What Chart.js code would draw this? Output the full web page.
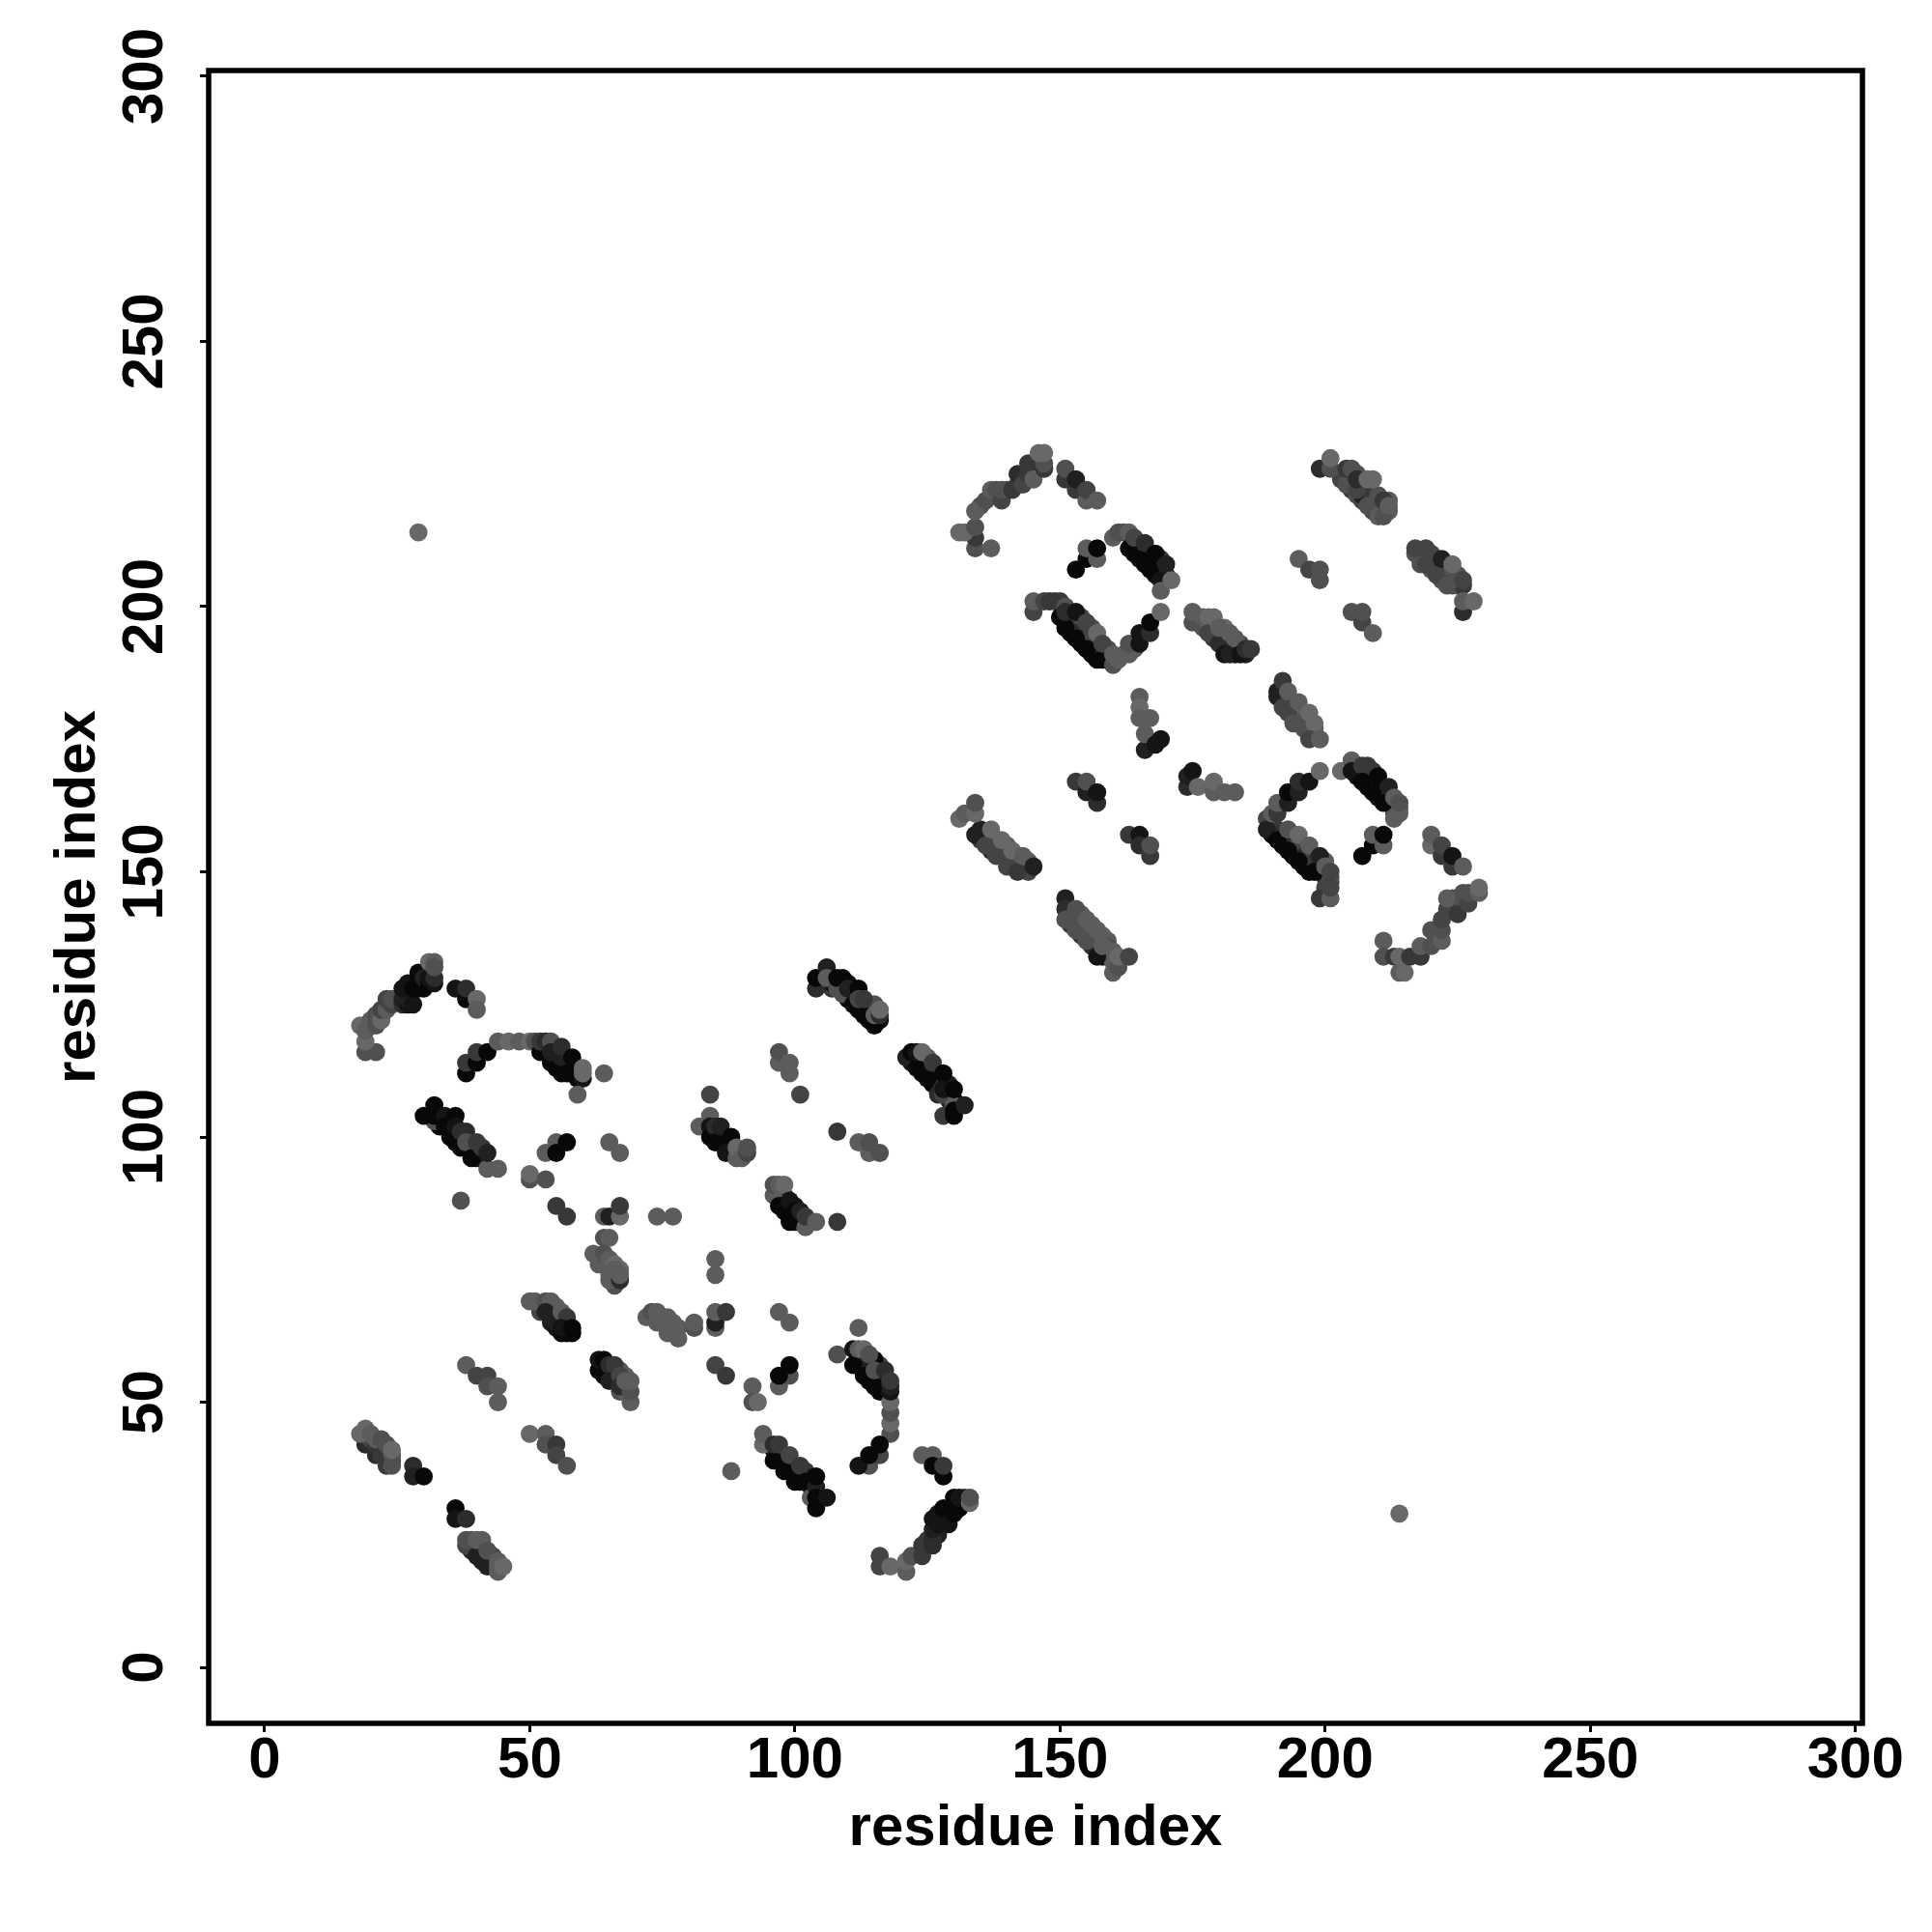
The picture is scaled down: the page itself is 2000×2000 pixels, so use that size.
<!DOCTYPE html>
<html>
<head>
<meta charset="utf-8">
<script src="https://cdn.jsdelivr.net/npm/chart.js@4"></script>
<style>
  html, body { margin: 0; background: #fff; }
  canvas { display: block; }
</style>
</head>
<body>
<canvas id="myChart" width="2000" height="2000"></canvas>
<script>
//DATA: each contact is [residue i, residue j, darkness 0-9]
const tickValues = [0, 50, 100, 150, 200, 250, 300];
const axisTitle = "residue index";

const lonely = [[29,214,1],[214,29,1]];

//lower domain
const arcUpperLeft = [[19,116,3],[21,116,3],[19,118,1],[18,121,1],[19,120,2],[20,122,2],[21,121,3],[21,123,3],[22,122,1],[22,124,4],[23,124,2],[23,126,4],[24,125,4],[24,126,3],[26,125,6],[26,126,7],[27,125,8],[27,126,7],[28,125,8],[26,128,8],[27,129,8],[28,128,9],[29,128,9],[29,131,9],[29,130,9],[30,128,9],[30,130,7],[31,129,9],[31,130,8],[32,129,8],[32,130,6],[31,133,1],[32,133,2],[32,132,3]];
const armTop = [[36,128,8],[38,126,9],[38,128,6],[40,126,1],[40,124,2]];
const arcMiddle = [[53,116,9],[53,117,7],[54,115,9],[55,114,9],[55,116,6],[55,113,9],[56,113,9],[57,114,8],[57,113,9],[58,112,9],[58,113,7],[59,112,9],[56,112,9],[55,115,8],[38,112,9],[38,114,5],[40,114,9],[40,116,5],[42,116,9],[44,118,2],[46,118,1],[48,118,2],[50,118,1],[51,118,3],[52,116,9],[52,118,5],[53,118,6],[54,118,3],[54,114,9],[54,116,7],[56,115,7],[56,117,6],[57,112,9],[58,115,9],[59,111,9],[60,111,8],[60,112,1],[60,113,1],[64,112,2],[59,108,2]];
const stripLeft = [[33,104,9],[33,102,9],[35,102,7],[35,103,8],[36,100,9],[36,99,9],[37,100,9],[38,98,9],[38,100,5],[39,98,7],[39,97,9],[40,97,9],[41,96,9],[40,96,8],[32,103,3],[30,104,9],[32,104,9],[32,106,9],[34,104,8],[36,104,9],[34,102,9],[35,100,9],[36,102,8],[37,101,6],[38,101,6],[37,98,9],[38,99,3],[39,96,9],[40,99,5],[42,94,2],[44,94,2],[41,98,5],[42,97,7],[37,88,3]];
const patchNinety = [[53,97,2],[55,99,2],[55,97,9],[57,99,9],[65,99,2],[67,97,2],[50,92,3],[50,93,1],[53,92,3],[55,87,5],[57,85,5],[64,85,2],[65,85,7],[67,85,1],[67,87,5],[74,85,2],[77,85,2]];
const patchSeventy = [[64,76,2],[64,77,3],[66,74,3],[65,75,2],[65,76,2],[66,73,4],[67,75,1],[64,81,3],[65,81,2],[62,78,2],[63,76,2],[64,78,3],[65,77,2],[66,76,1],[65,74,2],[66,72,3],[65,73,2],[67,73,6],[66,75,2],[67,74,2]];
const stripFlat = [[52,68,3],[52,67,4],[53,68,2],[54,67,4],[54,66,7],[55,67,3],[55,68,2],[54,65,7],[55,64,8],[56,65,5],[56,66,6],[57,64,9],[57,65,7],[58,63,9],[50,69,2],[51,69,2],[53,69,3],[54,69,2],[53,67,7],[55,65,7],[56,67,2],[56,63,9],[57,63,9],[57,66,5],[56,64,8],[58,64,9]];
const patchSixtyFive = [[72,66,2],[73,67,3],[74,67,2],[74,65,2],[76,66,2],[76,63,2],[77,65,2],[78,62,2],[78,64,2],[81,64,3],[81,65,2]];
const stripSixty = [[64,56,9],[64,55,9],[65,55,8],[65,56,6],[66,54,8],[66,55,5],[67,52,3],[68,53,3],[68,52,2],[68,55,2],[66,56,3],[67,56,2],[63,56,9],[63,58,8],[64,58,9],[65,57,6],[66,57,5],[65,54,7],[67,55,4],[67,53,6],[69,50,2],[69,52,3],[68,54,2],[69,54,2]];
const shortA = [[38,57,2],[40,55,4],[42,55,4],[42,53,3],[44,53,2],[44,50,2]];
const shortB = [[50,44,1],[53,44,2],[53,42,3],[55,42,5],[55,40,4],[57,38,3]];
const cornerLow = [[19,42,6],[21,40,6],[23,38,5],[20,42,6],[20,43,4],[21,42,5],[22,41,6],[22,42,4],[23,41,4],[23,40,5],[22,40,5],[24,39,5],[23,42,3],[18,44,1],[19,45,1],[20,44,2],[21,43,2],[22,43,3],[24,38,3],[24,40,3],[24,41,1]];
const cornerDiag = [[28,38,6],[28,36,7],[30,36,9],[36,30,9],[36,28,8],[38,28,6]];
const cornerTail = [[39,23,4],[39,24,3],[39,22,6],[40,23,4],[41,22,6],[41,20,7],[42,21,5],[43,21,4],[43,20,5],[43,19,5],[41,23,3],[38,23,4],[38,24,3],[40,21,7],[40,24,2],[41,24,2],[42,19,7],[42,22,3],[44,18,2],[44,20,2],[44,19,2],[45,19,1]];

const stripHundred = [[85,100,8],[85,101,7],[86,100,9],[86,99,9],[87,99,9],[87,98,8],[88,98,7],[88,97,4],[89,97,3],[90,97,3],[84,108,4],[84,104,2],[82,102,2],[84,102,8],[84,100,9],[85,102,6],[85,99,9],[86,102,7],[88,100,9],[87,97,8],[89,96,2],[89,98,1],[90,96,2],[91,97,4],[91,98,3]];
const stripUpperMid = [[105,130,8],[105,129,5],[107,128,5],[107,129,8],[107,130,7],[109,129,9],[109,128,9],[110,126,9],[110,127,9],[110,129,8],[111,127,7],[111,128,9],[112,124,9],[112,125,9],[113,124,8],[114,122,9],[114,123,9],[114,125,5],[114,124,7],[115,125,3],[115,122,9],[104,128,6],[104,130,9],[106,132,7],[106,130,2],[108,128,3],[108,130,9],[109,127,3],[109,130,9],[111,125,9],[110,128,7],[112,128,9],[113,123,9],[112,126,4],[113,126,5],[115,121,9],[116,122,9],[115,123,2],[116,123,6],[116,124,1]];
const patchG = [[97,114,2],[97,116,3],[99,112,2],[99,114,2],[101,108,4]];
const patchH = [[108,101,5],[112,99,2],[114,97,2],[114,99,3],[116,97,3]];
const stripRight = [[124,112,9],[126,110,9],[127,109,9],[122,114,8],[123,115,5],[124,114,4],[125,113,5],[126,112,6],[127,111,4],[127,112,5],[128,110,6],[129,108,8],[129,110,7],[129,107,6],[130,107,9],[124,115,3],[125,115,2],[122,115,7],[121,115,7],[122,116,9],[123,113,9],[123,116,8],[124,116,1],[125,111,9],[126,114,5],[127,108,6],[128,108,4],[128,112,9],[128,109,8],[128,104,5],[130,104,9],[130,106,2],[130,105,9],[130,109,9],[132,106,7]];
const stripNinety = [[97,89,9],[98,88,9],[98,86,9],[100,84,9],[97,90,3],[98,89,5],[99,86,9],[100,87,8],[101,85,6],[101,84,5],[102,84,3],[103,84,2],[96,89,2],[96,91,3],[97,91,2],[98,91,1],[97,87,9],[99,85,9],[99,88,8],[99,84,9],[100,86,9],[101,86,7],[102,83,2],[102,85,5],[104,84,2],[108,84,5]];
const patchEighty = [[85,77,2],[85,74,2],[85,64,2],[85,65,7],[85,67,2],[87,67,5],[97,67,2],[99,65,2],[85,57,4],[87,55,5],[97,53,2],[99,55,3],[97,55,9],[99,57,9],[92,53,2],[92,50,3],[93,50,1],[112,64,2],[108,59,3],[88,37,2]];
const arcRight = [[112,59,9],[112,58,9],[113,57,9],[114,56,9],[114,54,9],[115,55,9],[116,54,8],[116,53,9],[116,52,9],[117,53,8],[117,54,7],[116,57,4],[113,58,5],[114,58,7],[111,60,8],[111,57,9],[113,55,9],[115,53,9],[112,60,2],[113,60,1],[115,58,9],[114,59,3],[115,56,3],[117,56,6],[118,44,3],[118,46,1],[118,48,3],[118,50,1],[118,52,8],[118,53,7],[118,54,5],[114,38,3],[116,40,4],[112,38,8],[114,40,9],[116,42,9]];
const stripForty = [[96,41,7],[97,40,8],[97,39,8],[98,39,9],[98,40,6],[99,38,8],[100,36,9],[100,38,6],[101,36,8],[101,35,9],[102,37,5],[102,36,7],[103,35,7],[103,34,8],[94,42,1],[94,44,2],[96,39,9],[96,42,6],[97,42,5],[98,37,9],[99,40,4],[100,35,9],[101,38,5],[102,35,9],[103,32,2],[104,30,9],[104,34,7],[104,36,9],[104,32,9],[106,32,8]];
const armLowRight = [[124,40,2],[126,40,2],[126,38,9],[128,36,9],[128,38,5]];
const tailRight = [[127,29,8],[128,28,8],[129,29,9],[130,30,8],[125,24,5],[127,25,7],[128,29,9],[131,31,9],[132,32,6],[116,19,4],[116,21,4],[118,19,1],[121,18,2],[121,20,1],[122,21,3],[124,21,5],[124,23,5],[126,23,6],[126,24,6],[126,26,7],[126,28,8],[127,27,8],[128,30,9],[129,27,8],[130,29,9],[130,32,9],[131,30,9],[131,32,8],[133,31,1],[133,32,3]];

//upper domain
const arcUpper = [[135,219,3],[140,222,4],[142,223,5],[143,225,5],[145,226,5],[146,226,4],[146,228,2],[145,227,4],[134,211,3],[137,211,2],[134,213,5],[131,214,1],[132,214,1],[134,215,3],[134,218,2],[136,220,3],[137,222,2],[138,222,3],[139,220,4],[139,222,3],[141,222,5],[142,225,6],[143,223,4],[144,227,5],[144,225,5],[145,224,2],[147,226,5],[147,227,3],[146,229,1],[147,229,1]];
const armUpper = [[151,224,5],[151,226,3],[153,222,5],[153,224,7],[155,220,2],[155,222,4],[157,220,2]];
const hookUpper = [[153,207,9],[155,209,9],[155,211,2],[157,209,2],[157,211,9]];
const stripUpper = [[164,210,9],[166,208,9],[168,206,9],[165,211,6],[167,209,6],[169,207,6],[166,210,8],[168,208,8],[170,206,7],[164,212,3],[165,212,4],[169,209,5],[160,213,2],[161,214,3],[162,214,3],[163,214,2],[163,211,9],[164,213,4],[165,209,9],[166,212,6],[167,207,9],[168,210,9],[169,205,8],[170,208,7],[169,203,2],[171,205,1]];
const vLeft = [[152,196,9],[152,195,9],[154,193,9],[156,191,9],[157,190,9],[152,198,6],[154,196,6],[155,195,6],[156,194,6],[157,193,5],[158,192,7],[159,191,8],[154,198,4],[156,196,3],[156,195,4],[159,192,3],[160,190,6],[162,191,2],[164,192,2],[145,199,4],[145,201,2],[147,201,4],[148,201,5],[149,201,5],[150,198,9],[150,201,5],[151,200,3],[151,196,9],[151,199,6],[153,199,8],[153,194,9],[155,197,4],[155,192,9],[157,195,1],[158,190,9],[158,193,4],[160,189,3],[160,191,2],[161,190,2],[163,191,2],[163,193,3],[165,193,8],[165,195,8],[167,195,6],[167,197,9],[169,199,1]];
const dropUpper = [[165,183,2],[165,181,1],[165,179,2],[167,179,2],[166,173,7],[166,176,2],[168,174,8],[169,175,8]];
const stripDiag = [[176,197,2],[177,196,3],[178,197,2],[179,194,5],[179,196,3],[180,195,2],[181,193,6],[181,195,2],[182,193,5],[183,191,8],[183,192,6],[184,192,7],[184,193,3],[185,191,7],[181,196,1],[175,197,3],[175,199,2],[177,198,2],[178,198,1],[178,195,4],[179,198,1],[180,193,6],[180,196,2],[181,191,8],[182,195,2],[182,191,7],[183,194,2],[184,191,8],[185,192,6],[186,192,5]];
const stripDrop = [[192,183,7],[192,184,5],[193,182,5],[193,181,3],[194,180,5],[194,182,3],[195,180,3],[195,179,3],[196,179,4],[196,180,2],[197,178,2],[197,177,2],[198,177,2],[192,182,6],[193,180,4],[195,178,3],[191,183,7],[191,184,7],[192,186,5],[192,181,4],[193,184,2],[194,178,3],[195,182,2],[196,177,3],[197,180,1],[198,178,1],[197,175,4],[199,175,2]];
const stripTopRight = [[203,225,4],[203,224,4],[204,224,4],[205,222,5],[205,224,7],[205,225,5],[206,225,3],[206,221,3],[207,223,6],[207,220,4],[207,221,7],[208,222,5],[208,220,7],[209,219,4],[209,221,5],[209,218,4],[210,219,6],[210,218,3],[211,218,5],[212,218,2],[212,220,2],[199,226,6],[201,226,3],[201,228,1],[204,223,3],[204,226,5],[205,226,3],[206,222,4],[206,224,6],[208,219,3],[210,217,2],[210,221,3],[211,220,5],[208,224,1],[209,224,1],[211,217,3],[212,219,2]];
const stripTwoTen = [[218,209,5],[218,208,3],[219,210,5],[219,209,6],[220,207,3],[220,209,6],[221,209,5],[221,208,6],[222,205,3],[222,207,6],[223,207,6],[223,206,5],[224,205,4],[225,204,4],[225,206,3],[224,204,3],[226,204,5],[222,206,5],[217,210,3],[217,211,4],[219,208,4],[219,211,4],[220,210,4],[221,206,4],[222,209,7],[223,204,3],[224,207,3],[224,208,1],[226,199,6],[226,205,4],[226,201,2],[228,201,1]];
const patchAD = [[195,209,2],[197,207,4],[199,205,3],[199,207,3]];
const patchAE = [[205,199,3],[207,197,4],[207,199,3],[209,195,2]];
const stripRowLeft = [[135,156,5],[136,157,3],[137,156,4],[137,154,6],[138,156,2],[138,155,4],[139,153,5],[139,154,3],[140,155,2],[140,153,3],[141,152,4],[141,151,4],[142,153,2],[142,152,3],[143,151,3],[144,150,4],[136,156,2],[144,152,2],[131,160,1],[132,161,2],[134,157,7],[135,158,7],[134,161,1],[134,163,3],[136,155,4],[137,158,1],[138,153,4],[139,156,1],[140,151,4],[141,154,1],[142,150,5],[143,153,2],[145,151,7]];
const patchAI = [[153,167,5],[155,165,7],[155,167,3],[157,163,6],[157,165,8]];
const patchAJ = [[163,157,5],[165,157,8],[165,155,6],[167,153,5],[167,155,3]];
const patchAK = [[174,166,6],[174,168,7],[175,169,8],[176,166,1],[179,165,2],[179,167,1],[181,165,2],[183,165,2]];
const stripLowMid = [[152,142,4],[152,140,5],[153,141,3],[154,142,2],[154,140,3],[154,138,5],[155,139,3],[156,140,2],[156,138,2],[156,136,6],[157,137,3],[157,135,6],[158,138,1],[158,135,5],[159,137,2],[159,134,7],[159,136,3],[158,134,8],[160,133,2],[160,135,2],[161,133,2],[151,145,7],[151,143,6],[151,141,3],[153,139,3],[153,143,3],[155,137,3],[155,141,2],[157,134,8],[157,139,2],[158,136,2],[160,131,2],[161,132,3],[161,134,1],[163,134,4]];
const vRight = [[190,157,9],[192,155,9],[194,153,9],[196,151,9],[197,150,9],[190,158,8],[191,158,5],[192,157,6],[192,156,9],[193,156,5],[194,155,6],[194,154,9],[195,155,4],[196,153,6],[196,152,9],[197,153,5],[198,153,4],[198,152,5],[199,151,6],[200,152,2],[200,149,6],[201,148,4],[201,149,3],[200,147,4],[189,160,4],[189,158,7],[190,161,2],[191,161,5],[191,156,9],[191,163,2],[193,163,7],[193,165,9],[193,158,3],[193,154,9],[195,165,7],[195,167,6],[195,157,1],[195,152,9],[197,155,2],[197,167,8],[198,150,9],[199,153,7],[199,169,1],[199,145,5],[200,151,2],[201,145,2],[201,147,4],[201,150,4]];
const arcInner = [[206,168,9],[208,166,9],[210,164,9],[208,168,6],[209,167,6],[210,166,6],[211,165,6],[212,163,7],[212,164,4],[213,162,6],[209,169,5],[207,168,6],[213,161,3],[214,162,2],[203,169,1],[205,171,2],[205,169,8],[207,170,5],[208,170,5],[207,167,9],[209,165,9],[210,168,9],[211,163,9],[212,166,7],[213,160,2],[213,164,2],[214,161,2],[214,163,3]];
const hookLower = [[207,153,9],[209,155,9],[209,157,2],[211,155,2],[211,157,9]];
const armLast = [[220,155,1],[220,157,2],[222,153,5],[222,155,4],[224,151,5],[224,153,8],[226,151,2]];
const tailLast = [[224,143,3],[225,144,3],[226,144,3],[228,146,3],[224,145,3],[221,138,3],[211,137,2],[211,134,3],[213,134,5],[214,131,2],[215,131,1],[214,134,1],[216,134,5],[218,134,5],[218,136,2],[220,136,3],[220,139,3],[222,137,2],[222,139,3],[222,141,4],[223,143,4],[225,142,5],[223,145,2],[226,146,3],[227,144,4],[227,146,3],[229,146,2],[229,147,1]];

const contacts = [].concat(
  arcUpperLeft, armTop, arcMiddle, stripLeft, patchNinety, patchSeventy, stripFlat,
  patchSixtyFive, stripSixty, shortA, shortB, cornerLow, cornerDiag, cornerTail,
  stripHundred, stripUpperMid, patchG, patchH, stripRight, stripNinety, patchEighty,
  arcRight, stripForty, armLowRight, tailRight, arcUpper, armUpper, hookUpper,
  stripUpper, vLeft, dropUpper, stripDiag, stripDrop, stripTopRight, stripTwoTen,
  patchAD, patchAE, stripRowLeft, patchAI, patchAJ, patchAK, stripLowMid, vRight,
  arcInner, hookLower, armLast, tailLast, lonely
);

function shadeColor(d) {
  let g = Math.round(116 - d * 12);
  return "rgb(" + g + "," + g + "," + g + ")";
}

//the box round the plot
const frameBox = {
  id: "frameBox",
  afterDraw: (chart) => {
    let a = chart.chartArea;
    let ctx = chart.ctx;
    ctx.save();
    ctx.strokeStyle = "#000";
    ctx.lineWidth = 5.5;
    ctx.strokeRect(a.left, a.top, a.right - a.left, a.bottom - a.top);
    ctx.restore();
  }
};

const font = { family: "'Liberation Sans', Arial, sans-serif", weight: "bold", size: 60 };
const tickMarks = { drawOnChartArea: false, drawTicks: true, tickLength: 9, tickWidth: 3, tickColor: "#000" };

function setTicks(scale) {
  scale.ticks = tickValues.map(v => ({ value: v }));
}

new Chart(document.getElementById("myChart"), {
  type: "scatter",
  data: {
    datasets: [{
      data: contacts.map(c => ({ x: c[0], y: c[1] })),
      backgroundColor: contacts.map(c => shadeColor(c[2])),
      pointRadius: 9.4,
      pointBorderWidth: 0,
      pointHoverRadius: 9.4
    }]
  },
  options: {
    responsive: false,
    animation: false,
    layout: { padding: { top: 73, right: 72, left: 0, bottom: 0 } },
    plugins: { legend: { display: false }, tooltip: { enabled: false } },
    scales: {
      x: {
        type: "linear",
        min: -10.56,
        max: 301.33,
        afterBuildTicks: setTicks,
        afterFit: (s) => { s.height = 216; },
        border: { display: false },
        grid: tickMarks,
        ticks: { color: "#000", font: font, padding: -6, maxRotation: 0, autoSkip: false },
        title: { display: true, text: axisTitle, color: "#000", font: font, padding: { top: 0, bottom: 71 } }
      },
      y: {
        type: "linear",
        min: -10.56,
        max: 301.09,
        afterBuildTicks: setTicks,
        afterFit: (s) => { s.width = 216; },
        border: { display: false },
        grid: tickMarks,
        ticks: { color: "#000", font: font, padding: 5, minRotation: 90, maxRotation: 90, crossAlign: "center", autoSkip: false },
        title: { display: true, text: axisTitle, color: "#000", font: font, padding: { top: 45, bottom: 0 } }
      }
    }
  },
  plugins: [frameBox]
});
</script>
</body>
</html>
